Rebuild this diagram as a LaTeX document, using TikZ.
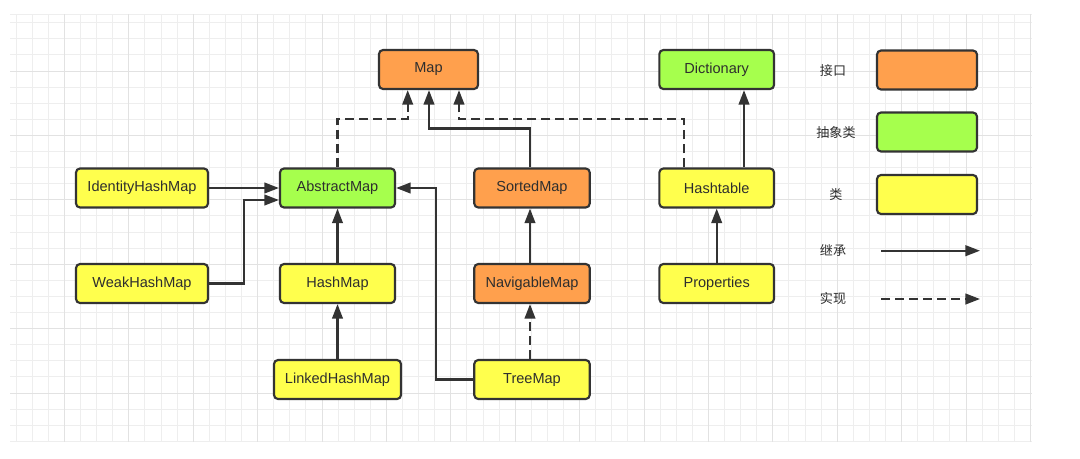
\documentclass[tikz,border=0pt]{standalone}
\usepackage{fontspec}
\setmainfont{Liberation Sans}
\newfontfamily\cjk{Noto Sans CJK SC}
\usetikzlibrary{arrows.meta}
\definecolor{ifc}{HTML}{FFA04D}
\definecolor{absc}{HTML}{A6FF4D}
\definecolor{clsc}{HTML}{FFFF4D}
\definecolor{bordc}{HTML}{333333}
\definecolor{txtc}{HTML}{2E2E2E}
\definecolor{gridmin}{HTML}{EEEEEE}
\definecolor{gridmaj}{HTML}{E2E2E2}
\begin{document}
\begin{tikzpicture}[x=0.75pt,y=-0.75pt,
  box/.style={draw=bordc, line width=1.6pt, rounded corners=3pt,
    minimum height=29.25pt, inner sep=0pt, text=txtc,
    font=\fontsize{10.9}{12}\selectfont},
  ifbox/.style={box, fill=ifc},
  absbox/.style={box, fill=absc},
  clsbox/.style={box, fill=clsc},
  lab/.style={text=txtc, inner sep=0pt, font=\cjk\fontsize{9.8}{11}\selectfont},
  inh/.style={draw=bordc, line width=1.6pt, -{Triangle[length=11pt,width=8pt]}},
  impl/.style={inh, dash pattern=on 7pt off 3.5pt},
  gmin/.style={draw=gridmin, line width=0.75pt},
  gmaj/.style={draw=gridmaj, line width=0.75pt}]
\useasboundingbox (0,0) rectangle (1080,458);
\fill[white] (0,0) rectangle (1080,458);
% grid
\foreach \j in {1,...,64} \draw[gmin] (\j*16.1,14) -- (\j*16.1,442);
\foreach \m in {-3,...,23} \draw[gmin] (10,71+\m*16.1) -- (1032,71+\m*16.1);
\draw[gmin] (10,14) -- (1032,14);
\foreach \k in {1,...,16} \draw[gmaj] (\k*64.4,14) -- (\k*64.4,442);
\foreach \k in {0,...,5} \draw[gmaj] (10,71+\k*64.4) -- (1032,71+\k*64.4);
% nodes
\node[ifbox, minimum width=74.25pt] (map) at (428.5,69.5) {Map};
\node[absbox, minimum width=86pt] (dict) at (716.7,69.5) {Dictionary};
\node[clsbox, minimum width=99pt] (ihm) at (142,188) {IdentityHashMap};
\node[absbox, minimum width=86.25pt] (am) at (337.5,188) {AbstractMap};
\node[ifbox, minimum width=86.6pt] (sm) at (532,188) {SortedMap};
\node[clsbox, minimum width=86pt] (ht) at (716.7,188) {Hashtable};
\node[clsbox, minimum width=99pt] (whm) at (142,283.5) {WeakHashMap};
\node[clsbox, minimum width=86.25pt] (hm) at (337.5,283.5) {HashMap};
\node[ifbox, minimum width=86.6pt] (nm) at (532,283.5) {NavigableMap};
\node[clsbox, minimum width=86pt] (prop) at (716.7,283.5) {Properties};
\node[clsbox, minimum width=95.25pt] (lhm) at (337.5,379.5) {LinkedHashMap};
\node[clsbox, minimum width=86.6pt] (tm) at (532,379.5) {TreeMap};
% legend
\node[ifbox, minimum width=75pt] (lg1) at (927,70) {};
\node[absbox, minimum width=75pt] (lg2) at (927,132) {};
\node[clsbox, minimum width=75pt] (lg3) at (927,194.5) {};
\node[lab] (t1) at (833,71) {接口};
\node[lab] (t2) at (836,133) {抽象类};
\node[lab] (t3) at (836,195) {类};
\node[lab] (t4) at (833,250) {继承};
\node[lab] (t5) at (833,298) {实现};
\coordinate (l1a) at (881,250.7);
\coordinate (l1b) at (980,250.7);
\coordinate (l2a) at (881,299);
\coordinate (l2b) at (980,299);
\draw[inh] (l1a) -- (l1b);
\draw[impl] (l2a) -- (l2b);
% helper coordinates
\coordinate (ja) at (407.7,119);
\coordinate (jb) at (429,128.5);
\coordinate (jc) at (459,119);
\coordinate (sx) at (530,0);
\coordinate (hx) at (684,0);
\coordinate (dx) at (744,0);
\coordinate (jw) at (244.3,200);
\coordinate (jt) at (435.7,188);
% connectors
\draw[impl] (am.north) |- (ja) -- (ja |- map.south);
\draw[inh] (sm.north -| sx) |- (jb) -- (jb |- map.south);
\draw[impl] (ht.north -| hx) |- (jc) -- (jc |- map.south);
\draw[inh] (ht.north -| dx) -- (dict.south -| dx);
\draw[inh] (prop.north) -- (ht.south);
\draw[inh] (ihm.east) -- (am.west);
\draw[inh] (whm.east) -| (jw) -- (jw -| am.west);
\draw[inh] (hm.north) -- (am.south);
\draw[inh] (lhm.north) -- (hm.south);
\draw[inh] (tm.west) -| (jt) -- (am.east);
\draw[inh] (nm.north -| sx) -- (sm.south -| sx);
\draw[impl] (tm.north -| sx) -- (nm.south -| sx);
\end{tikzpicture}
\end{document}
